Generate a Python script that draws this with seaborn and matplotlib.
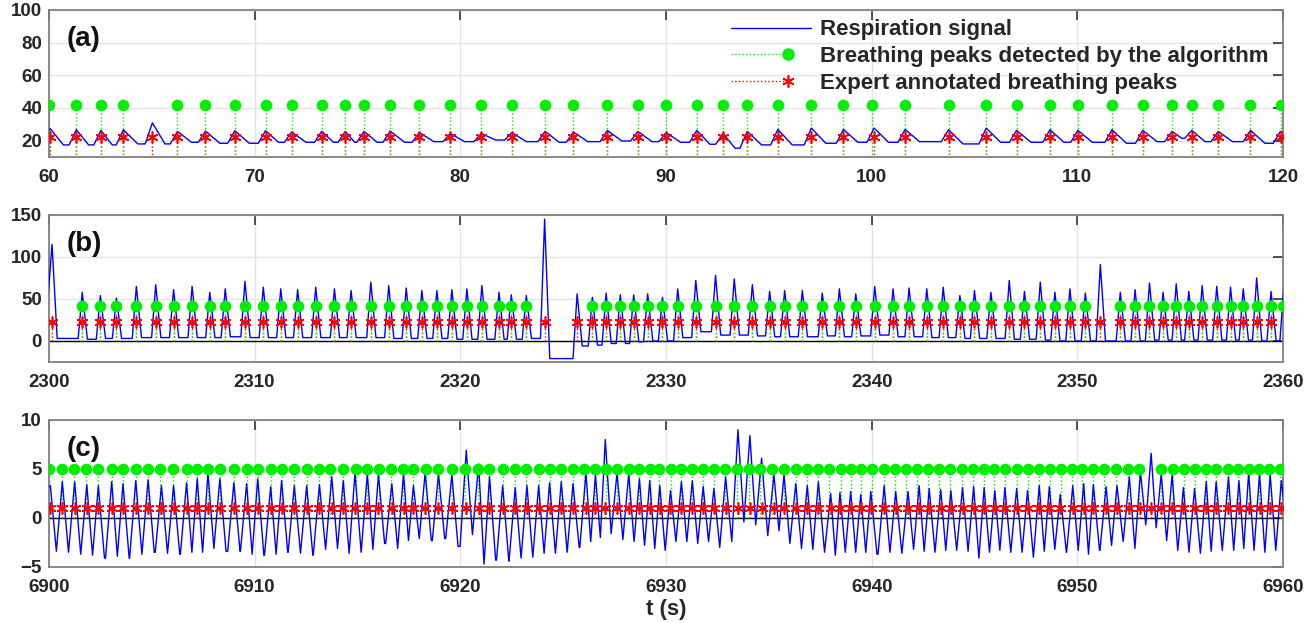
import numpy as np
import pandas as pd
import matplotlib
matplotlib.use("Agg")
import matplotlib.pyplot as plt
import seaborn as sns
from matplotlib.lines import Line2D
from matplotlib.legend_handler import HandlerLine2D

# ---------------- panel (a) ----------------
a_annot = [60.07, 61.33, 62.53, 63.62, 65.03, 66.25, 67.61, 69.04, 70.53, 71.80, 73.26, 74.41,
           75.32, 76.59, 78.01, 79.51, 81.02, 82.51, 84.12, 85.50, 87.15, 88.63, 90.01, 91.50,
           92.77, 93.95, 95.44, 97.07, 98.63, 100.12, 101.63, 103.74, 105.57, 107.05, 108.67,
           110.03, 111.69, 113.18, 114.60, 115.57, 116.85, 118.42, 119.88]
a_detect = [60.00, 61.33, 62.53, 63.62, 66.25, 67.61, 69.04, 70.53, 71.80, 73.26, 74.41,
            75.32, 76.59, 78.01, 79.51, 81.02, 82.51, 84.12, 85.50, 87.15, 88.63, 90.01, 91.50,
            92.77, 93.95, 95.44, 97.07, 98.63, 100.04, 101.63, 103.74, 105.57, 107.05, 108.67,
            110.03, 111.69, 113.18, 114.60, 115.57, 116.85, 118.42, 119.88]
a_peak_t = a_annot
a_peak_v = [27.3, 26.7, 26.3, 26.7, 30.9, 25.7, 25.9, 26.1, 26.1, 25.3, 25.7, 25.7, 25.7, 25.9,
            25.0, 24.4, 24.4, 25.0, 25.7, 25.3, 26.3, 25.7, 25.0, 26.3, 24.4, 25.7, 26.9, 27.7,
            26.9, 27.7, 26.9, 26.7, 27.7, 26.3, 26.7, 26.3, 26.7, 26.3, 25.7, 26.3, 25.7, 26.3, 25.7]
a_trough_v = [17.4, 17.4, 17.4, 18.0, 18.0, 19.0, 18.4, 18.4, 19.0, 19.0, 19.0, 19.0, 19.0, 19.0,
              19.4, 19.4, 20.4, 19.4, 19.0, 19.4, 19.8, 19.4, 19.0, 17.8, 15.4, 17.4, 17.4, 18.4,
              19.0, 19.0, 19.4, 18.0, 19.0, 19.0, 19.0, 19.0, 18.4, 19.4, 21.4, 19.4, 19.4, 18.4]
a_edges = [22.0, 21.0]

# ---------------- panel (b) ----------------
b_annot = [2300.15, 2301.62, 2302.50, 2303.28, 2304.25, 2305.19, 2306.06, 2306.96, 2307.82,
           2308.57, 2309.53, 2310.42, 2311.27, 2312.09, 2312.97, 2313.88, 2314.69, 2315.65,
           2316.52, 2317.37, 2318.13, 2318.86, 2319.59, 2320.32, 2321.05, 2321.88, 2322.48,
           2323.21, 2324.10, 2325.68, 2326.42, 2327.09, 2327.78, 2328.43, 2329.11, 2329.83,
           2330.57, 2331.45, 2332.41, 2333.32, 2334.20, 2335.04, 2335.77, 2336.63, 2337.60,
           2338.43, 2339.23, 2340.15, 2341.04, 2341.82, 2342.68, 2343.48, 2344.29, 2345.00,
           2345.80, 2346.69, 2347.43, 2348.20, 2348.91, 2349.64, 2350.39, 2351.12, 2352.09,
           2352.81, 2353.51, 2354.17, 2354.81, 2355.42, 2356.07, 2356.78, 2357.45, 2358.07,
           2358.72, 2359.42]
b_detect = [2301.62, 2302.50, 2303.28, 2304.25, 2305.19, 2306.06, 2306.96, 2307.82,
            2308.57, 2309.53, 2310.42, 2311.27, 2312.09, 2312.97, 2313.88, 2314.69, 2315.65,
            2316.52, 2317.37, 2318.13, 2318.86, 2319.59, 2320.32, 2321.05, 2321.88, 2322.48,
            2323.21, 2326.42, 2327.09, 2327.78, 2328.43, 2329.11, 2329.83,
            2330.57, 2331.45, 2332.41, 2333.32, 2334.20, 2335.04, 2335.77, 2336.63, 2337.60,
            2338.43, 2339.23, 2340.15, 2341.04, 2341.82, 2342.68, 2343.48, 2344.29, 2345.00,
            2345.80, 2346.69, 2347.43, 2348.20, 2348.91, 2349.64, 2350.39, 2352.09,
            2352.81, 2353.51, 2354.17, 2354.81, 2355.42, 2356.07, 2356.78, 2357.45, 2358.07,
            2358.72, 2359.42, 2360.00]
b_peak_t = b_annot + [2360.05]
b_peak_v = [115, 58, 54, 51, 65, 67, 61, 65, 58, 62, 71, 64, 62, 61, 64, 62, 60, 70, 66, 63, 60,
            60, 61, 62, 66, 58, 55, 54, 145, 56, 52, 57, 55, 55, 56, 52, 62, 72, 78, 74, 67, 59,
            60, 60, 57, 62, 56, 65, 62, 63, 62, 64, 54, 60, 58, 72, 59, 70, 58, 62, 57, 91, 58,
            61, 69, 58, 68, 59, 66, 65, 64, 62, 75, 59, 67]
b_trough_v = [3, 2, 3, 3, 4, 4, 4, 4, 4, 5, 4, 4, 4, 4, 4, 4, 4, 4, 3, 3, 3, 3, 2, 2, 2, 2, 2,
              3, -21, -6, -5, -3, -3, -1, 0, 0, 4, 11, 7, 7, 6, 5, 5, 5, 6, 5, 6, 7, 5, 5, 4,
              4, 3, 3, 3, 2, 2, 1, 0, 0, 0, 0, 0, 0, 1, 1, 1, 1, 1, 1, 1, 1, 0, 0]
b_edges = [50.0, 0.0]

# ---------------- panel (c) ----------------
c_annot = [6900.07, 6900.65, 6901.25, 6901.84, 6902.40, 6903.05, 6903.60, 6904.22, 6904.82,
           6905.47, 6906.06, 6906.69, 6907.21, 6907.73, 6908.31, 6908.99, 6909.61, 6910.15,
           6910.78, 6911.31, 6911.93, 6912.53, 6913.15, 6913.75, 6914.31, 6914.88, 6915.48,
           6916.02, 6916.67, 6917.24, 6917.72, 6918.29, 6918.94,
           6919.59, 6920.29, 6920.89, 6921.42, 6922.06, 6922.67, 6923.24, 6923.81, 6924.34,
           6924.91, 6925.48, 6926.11, 6926.57, 6927.05, 6927.62, 6928.19, 6928.71, 6929.21,
           6929.70, 6930.22, 6930.75, 6931.28, 6931.81, 6932.33, 6932.90, 6933.50, 6934.08,
           6934.65, 6935.25, 6935.74, 6936.31, 6936.87, 6937.41, 6938.01, 6938.46, 6938.98,
           6939.47, 6939.96, 6940.61, 6941.17, 6941.77, 6942.31, 6942.80, 6943.36, 6943.85,
           6944.42, 6944.96, 6945.47, 6945.99, 6946.48, 6947.05, 6947.58, 6948.15, 6948.64,
           6949.17, 6949.78, 6950.31, 6950.78, 6951.40, 6951.93, 6952.53, 6953.07, 6953.59,
           6954.08, 6954.61, 6955.16, 6955.70, 6956.27, 6956.75, 6957.35, 6957.86, 6958.33,
           6958.86, 6959.38, 6959.92]
c_detect = [6900.00, 6900.62, 6901.20, 6901.80, 6902.40, 6903.05, 6903.60, 6904.25, 6904.82,
            6905.42, 6906.02, 6906.69, 6907.21, 6907.73, 6908.31, 6908.99, 6909.61, 6910.15,
            6910.78, 6911.31, 6911.93, 6912.53, 6913.15, 6913.67, 6914.31, 6914.93, 6915.45,
            6916.05, 6916.62, 6917.20, 6917.72, 6918.33, 6918.94,
            6919.59, 6920.24, 6920.86, 6921.42, 6922.07, 6922.64, 6923.21, 6923.81, 6924.38,
            6924.91, 6925.46, 6926.03, 6926.57, 6927.10, 6927.62, 6928.19, 6928.68, 6929.21,
            6929.67, 6930.25, 6930.75, 6931.28, 6931.81, 6932.33, 6932.87, 6933.44, 6934.02,
            6934.59, 6935.16, 6935.74, 6936.31, 6936.85, 6937.41, 6937.93, 6938.50, 6939.02,
            6939.47, 6940.04, 6940.61, 6941.13, 6941.68, 6942.20, 6942.72, 6943.28, 6943.80,
            6944.39, 6944.91, 6945.45, 6945.97, 6946.49, 6947.05, 6947.58, 6948.12, 6948.67,
            6949.20, 6949.72, 6950.22, 6950.78, 6951.32, 6951.89, 6952.45, 6953.02,
            6954.08, 6954.65, 6955.21, 6955.70, 6956.27, 6956.75, 6957.32, 6957.81, 6958.33,
            6958.82, 6959.31, 6959.87]
c_peak_t = c_annot
c_peak_v = [3.3, 3.7, 3.7, 3.4, 3.3, 3.7, 3.5, 3.8, 3.9, 3.3, 3.3, 3.6, 4.0, 4.6, 4.0, 3.6, 3.5,
            4.0, 3.2, 3.8, 3.3, 3.3, 3.4, 4.2, 3.8, 4.6, 4.5, 4.4, 3.5, 4.5, 3.3, 4.6, 4.5,
            4.4, 6.9, 5.5, 4.2, 3.3, 3.1, 3.3, 3.3, 3.6, 3.7, 3.5, 4.6, 4.4, 8.0, 4.6, 4.5, 4.0,
            3.8, 3.3, 2.8, 3.7, 3.8, 3.2, 3.0, 4.2, 9.0, 8.4, 6.1, 4.4, 4.4, 3.5, 3.3, 3.7, 2.5,
            2.6, 2.7,
            2.4, 2.7, 3.3, 2.7, 2.7, 3.3, 3.0, 2.9, 2.8, 3.1, 3.2, 3.1, 2.8, 3.1, 3.0, 2.8, 3.3,
            3.2, 2.4, 3.3, 3.5, 3.4, 3.2, 3.3, 4.2, 4.7, 6.6, 4.5, 4.4, 3.1, 3.0, 3.7, 3.7, 4.2,
            3.8, 4.6, 4.5, 4.4, 3.8]
c_trough_v = [-3.4, -3.5, -3.7, -3.8, -4.1, -3.9, -4.1, -3.7, -3.5, -3.6, -3.7, -3.5, -3.5,
              -3.1, -3.4, -3.4, -3.7, -3.8, -3.7, -3.5, -3.6, -3.8, -3.2, -3.1, -3.6, -3.5,
              -3.2, -2.6, -3.1, -2.3, -2.1, -2.3, -2.1,
              -2.9, -1.7, -4.7, -4.3, -4.4, -4.1, -4.0, -3.6, -3.6, -3.5, -3.0, -2.4, -2.0,
              -1.6, -2.2, -2.4, -2.8, -3.1, -3.3, -2.4, -2.4, -2.6, -2.4, -3.0, -2.4, -0.4,
              -0.7, -1.8, -1.3, -2.6, -3.1, -3.2, -3.5, -3.8, -3.5, -3.5,
              -3.5, -3.7, -3.5, -3.6, -3.2, -3.4, -3.5, -3.3, -3.3, -3.4, -4.1, -3.5, -3.3,
              -3.5, -3.5, -4.0, -3.4, -3.2, -3.5, -3.3, -3.7, -3.3, -2.8, -2.4, -3.1, -0.7,
              -1.0, -2.3, -3.3, -3.5, -3.6, -3.4, -3.3, -3.3, -3.1, -3.3, -3.5, -3.3]
c_edges = [2.8, -2.0]

legend_labels = ["Respiration signal", "Breathing peaks detected by the algorithm",
                 "Expert annotated breathing peaks"]


def signal_frame(peak_t, peak_v, trough_v, edges, rise, fall):
    # polyline through the read peaks and the read trough levels between them
    ts, vs = [peak_t[0] - rise], [edges[0]]
    n = len(peak_t)
    for i in range(n):
        if i > 0:
            gap = peak_t[i] - peak_t[i - 1]
            ts.append(peak_t[i] - min(rise, gap / 2))
            vs.append(trough_v[i - 1])
        ts.append(peak_t[i])
        vs.append(peak_v[i])
        if i < n - 1:
            gap = peak_t[i + 1] - peak_t[i]
            ts.append(peak_t[i] + min(fall, gap / 2))
            vs.append(trough_v[i])
    ts.append(peak_t[-1] + fall)
    vs.append(edges[1])
    return pd.DataFrame({"t": ts, "v": vs})


class StemHandle(HandlerLine2D):
    # matlab style stem legend entry: dotted line ending in the marker
    def create_artists(self, legend, orig_handle, xdescent, ydescent, width, height,
                       fontsize, trans):
        arts = super().create_artists(legend, orig_handle, xdescent, ydescent, width,
                                      height, fontsize, trans)
        x0 = -xdescent + 0.075 * width
        x1 = -xdescent + 0.68 * width
        for a in arts:
            y = a.get_ydata()[0]
            a.set_data([x0, x1], [y, y])
            a.set_markevery([1])
        return arts


sns.set_theme(style="white")
plt.rcParams["font.family"] = ["Liberation Sans", "DejaVu Sans"]
plt.rcParams["font.weight"] = "bold"

fig = plt.figure(figsize=(13.16, 6.23), dpi=100)

panels = [
    dict(tag="(a)", peak_t=a_peak_t, peak_v=a_peak_v, trough=a_trough_v, edges=a_edges,
         det=a_detect, ann=a_annot, det_h=42, ann_h=22, xlim=(60, 120), ylim=(10, 100),
         yticks=[20, 40, 60, 80, 100], rise=0.35, fall=0.7, pos=0.748),
    dict(tag="(b)", peak_t=b_peak_t, peak_v=b_peak_v, trough=b_trough_v, edges=b_edges,
         det=b_detect, ann=b_annot, det_h=42, ann_h=22, xlim=(2300, 2360), ylim=(-25, 150),
         yticks=[0, 50, 100, 150], rise=0.2, fall=0.25, pos=0.419),
    dict(tag="(c)", peak_t=c_peak_t, peak_v=c_peak_v, trough=c_trough_v, edges=c_edges,
         det=c_detect, ann=c_annot, det_h=5, ann_h=1, xlim=(6900, 6960), ylim=(-5, 10),
         yticks=[-5, 0, 5, 10], rise=0.3, fall=0.3, pos=0.0899),
]

green = "#00ee00"
for p in panels:
    ax = fig.add_axes([0.0372, p["pos"], 0.9377, 0.236])
    sig = signal_frame(p["peak_t"], p["peak_v"], p["trough"], p["edges"], p["rise"], p["fall"])
    ax.axhline(0, color="black", lw=1.0, zorder=2)
    ax.vlines(p["ann"], 0, p["ann_h"], colors="red", linestyles=":", lw=1.0, zorder=2)
    ax.vlines(p["det"], 0, p["det_h"], colors=green, linestyles=":", lw=1.0, zorder=2)
    sns.lineplot(data=sig, x="t", y="v", ax=ax, color="#0000ff", lw=1.0,
                 estimator=None, sort=False, zorder=3)
    sns.scatterplot(x=p["det"], y=[p["det_h"]] * len(p["det"]), ax=ax, color=green,
                    marker="o", s=70, edgecolor=green, linewidth=0, zorder=4)
    sns.scatterplot(x=p["ann"], y=[p["ann_h"]] * len(p["ann"]), ax=ax, color="red",
                    marker=(6, 2, 0), s=60, linewidth=1.2, zorder=5)
    ax.set_xlim(*p["xlim"])
    ax.set_ylim(*p["ylim"])
    ax.set_yticks(p["yticks"])
    ax.set_xticks(np.arange(p["xlim"][0], p["xlim"][1] + 1, 10))
    ax.grid(True, color="#e4e4e4", lw=1.0)
    ax.set_axisbelow(True)
    ax.tick_params(direction="in", length=7, width=1.2, color="#333333", top=True,
                   right=True, labelsize=13.5, labelcolor="#262626")
    ax.tick_params(axis="x", pad=9)
    ax.tick_params(axis="y", pad=5)
    for lab in ax.get_xticklabels() + ax.get_yticklabels():
        lab.set_fontweight("bold")
    for s in ax.spines.values():
        s.set_color("#808080")
        s.set_linewidth(1.3)
    ax.set_xlabel("")
    ax.set_ylabel("")
    ax.text(0.014, 0.89, p["tag"], transform=ax.transAxes, fontsize=20,
            fontweight="bold", va="top", ha="left", color="#111111")
    if p["tag"] == "(a)":
        handles = [
            Line2D([0], [0], color="#0000ff", lw=1.0),
            Line2D([0], [0], color=green, ls=":", lw=1.0, marker="o", markersize=8,
                   markerfacecolor=green, markeredgecolor=green),
            Line2D([0], [0], color="red", ls=":", lw=1.0, marker=(6, 2, 0), markersize=9,
                   markeredgecolor="red", markeredgewidth=1.2),
        ]
        ax.legend(handles, legend_labels, loc="upper right", bbox_to_anchor=(0.99, 0.951),
                  numpoints=2, handlelength=4.2, frameon=False, borderaxespad=0.0,
                  labelspacing=0.25, handletextpad=0.1, borderpad=0.1,
                  handler_map={handles[1]: StemHandle(), handles[2]: StemHandle()},
                  prop={"weight": "bold", "size": 16})
    if p["tag"] == "(c)":
        ax.set_xlabel("t (s)", fontsize=16, fontweight="bold", labelpad=2)

fig.savefig("out.png", dpi=100)
